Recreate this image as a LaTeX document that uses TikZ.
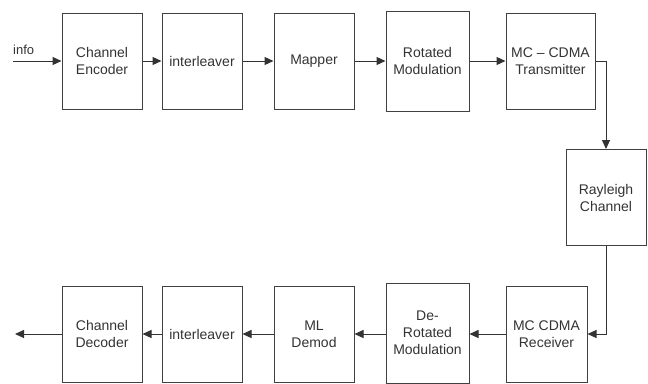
\documentclass[tikz,border=0pt]{standalone}
\usepackage{fontspec}
\setmainfont{Liberation Sans}
\usetikzlibrary{arrows.meta}

\begin{document}
\begin{tikzpicture}[x=1pt,y=-1pt,
    link/.style={>={Triangle[length=9pt,width=8pt]},line width=1pt,draw=black!80},
    blk/.style={rectangle,draw=black!75,line width=1pt,minimum width=80pt,minimum height=96pt,align=center,text=black!80,font=\fontsize{14}{17}\selectfont,inner sep=1pt}]
        \useasboundingbox (0,0) rectangle (648,383);
        % transmitter chain
        \node[blk] (enc) at (102,61) {Channel\\Encoder};
        \node[blk] (intl) at (202,61) {interleaver};
        \node[blk] (map) at (314,61) {Mapper};
        \node[blk,minimum width=83pt,minimum height=100pt] (rot) at (427.5,61) {Rotated\\Modulation};
        \node[blk,minimum width=89pt] (tx) at (550.5,61) {MC – CDMA\\Transmitter};
        \node[blk] (ray) at (606,197.5) {Rayleigh\\Channel};
        % receiver chain
        \node[blk,minimum width=81pt] (rx) at (546.5,334) {MC CDMA\\Receiver};
        \node[blk,minimum width=83pt,minimum height=100pt] (derot) at (427.5,333) {De-\\Rotated\\Modulation};
        \node[blk] (ml) at (314,334) {ML\\Demod};
        \node[blk] (deint) at (202,334) {interleaver};
        \node[blk] (dec) at (102,334) {Channel\\Decoder};
        \coordinate (in) at (13,61);
        \coordinate (out) at (15,334);
        \node[anchor=south west,inner sep=0pt,text=black!80,font=\fontsize{13}{15}\selectfont] (info) at (13,55) {info};
        \draw [link,->] (in) -- (enc.west);
        \draw [link,->] (enc) -- (intl);
        \draw [link,->] (intl) -- (map);
        \draw [link,->] (map) -- (rot);
        \draw [link,->] (rot) -- (tx);
        \draw [link,->] (tx.east) -| (ray.north);
        \draw [link,->] (ray.south) |- (rx.east);
        \draw [link,->] (rx) -- (derot.east |- rx);
        \draw [link,->] (derot.west |- rx) -- (ml);
        \draw [link,->] (ml) -- (deint);
        \draw [link,->] (deint) -- (dec);
        \draw [link,->] (dec.west) -- (out);
    \end{tikzpicture}
\end{document}
